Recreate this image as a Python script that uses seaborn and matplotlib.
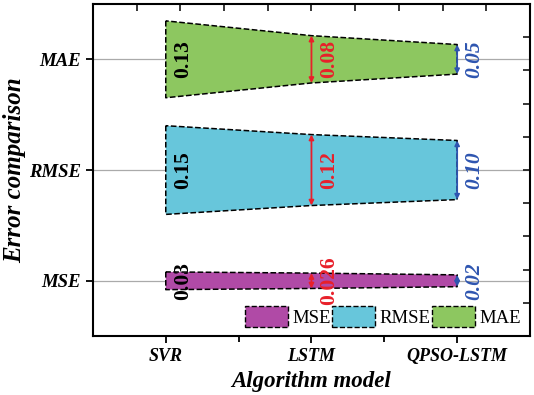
import matplotlib
matplotlib.use('Agg')
import matplotlib.pyplot as plt
import seaborn as sns
import numpy as np
import pandas as pd
from matplotlib.patches import Patch

# du lieu doc tu hinh
models = ['SVR', 'LSTM', 'QPSO-LSTM']
metrics = ['MSE', 'RMSE', 'MAE']
mse = [0.03, 0.026, 0.02]
rmse = [0.15, 0.12, 0.10]
mae = [0.13, 0.08, 0.05]
labels_mse = ['0.03', '0.026', '0.02']
labels_rmse = ['0.15', '0.12', '0.10']
labels_mae = ['0.13', '0.08', '0.05']

fill_colors = {'MSE': '#b04aa6', 'RMSE': '#67c6db', 'MAE': '#8dc760'}
label_colors = ['black', '#e8202a', '#2e55b0']
scale = 2.67  # nua be rong dai / gia tri

sns.set_theme(style='ticks')
plt.rcParams['font.family'] = ['Liberation Serif', 'DejaVu Serif']
plt.rcParams['text.color'] = 'black'
plt.rcParams['axes.labelcolor'] = 'black'

df = pd.DataFrame({'model': models, 'MSE': mse, 'RMSE': rmse, 'MAE': mae})
xs = np.arange(len(models))

fig, ax = plt.subplots(figsize=(5.34, 3.95), dpi=100)
fig.subplots_adjust(left=0.174, right=0.9925, top=0.99, bottom=0.149)

# duong luoi ngang tai cac hang muc
for i in range(len(metrics)):
    ax.axhline(i, color='#aaaaaa', lw=0.9, zorder=0)

all_labels = {'MSE': labels_mse, 'RMSE': labels_rmse, 'MAE': labels_mae}
for i, m in enumerate(metrics):
    half = df[m].values * scale
    ax.fill_between(xs, i - half, i + half, facecolor=fill_colors[m],
                    edgecolor='black', linestyle='--', linewidth=1.1, zorder=2)
    # mui ten tai LSTM va QPSO-LSTM
    for j, col in [(1, label_colors[1]), (2, label_colors[2])]:
        ax.annotate('', xy=(xs[j], i + half[j]), xytext=(xs[j], i - half[j]),
                    arrowprops=dict(arrowstyle='<|-|>', color=col, lw=1.3,
                                    mutation_scale=7, shrinkA=0, shrinkB=0),
                    zorder=4)
    for j in range(3):
        style = 'italic' if j == 2 else 'normal'
        ax.text(xs[j] + 0.12, i, all_labels[m][j], rotation=90,
                ha='center', va='center', fontsize=15.5, fontweight='bold',
                fontstyle=style, color=label_colors[j], zorder=5)

ax.set_xlim(-0.5, 2.5)
ax.set_ylim(-0.5, 2.5)
ax.set_xticks(xs)
ax.set_xticklabels(models, fontsize=13, fontweight='bold', fontstyle='italic')
ax.set_xticks([0.5, 1.5], minor=True)
ax.set_yticks(range(len(metrics)))
ax.set_yticklabels(metrics, fontsize=13.5, fontweight='bold', fontstyle='italic')
ax.tick_params(axis='both', which='both', direction='out', length=5, width=1.3,
               colors='black', labelcolor='black')
ax.tick_params(axis='x', which='minor', length=4)
ax.set_xlabel('Algorithm model', fontsize=16.5, fontweight='bold', fontstyle='italic', labelpad=4)
ax.set_ylabel('Error comparison', fontsize=18, fontweight='bold', fontstyle='italic', labelpad=2)
for sp in ax.spines.values():
    sp.set_visible(True)
    sp.set_linewidth(1.5)
    sp.set_color('black')

# truc phu tren va phai
top = ax.secondary_xaxis('top')
top.set_xticks(np.arange(-0.5, 2.51, 0.3))
top.tick_params(direction='in', length=5, width=1.3, labeltop=False)
right = ax.secondary_yaxis('right')
right.set_yticks(np.arange(-0.5, 2.51, 0.3))
right.tick_params(direction='in', length=5, width=1.3, labelright=False)

handles = [Patch(facecolor=fill_colors[m], edgecolor='black', linestyle='--', linewidth=1.0, label=m)
           for m in metrics]
ax.legend(handles=handles, ncol=3, loc='lower right', frameon=False, fontsize=13.5,
          handlelength=2.3, handleheight=1.3, handletextpad=0.2, columnspacing=0.1,
          borderaxespad=0.1, bbox_to_anchor=(1.0, 0.0))

fig.savefig('out.png', dpi=100)
